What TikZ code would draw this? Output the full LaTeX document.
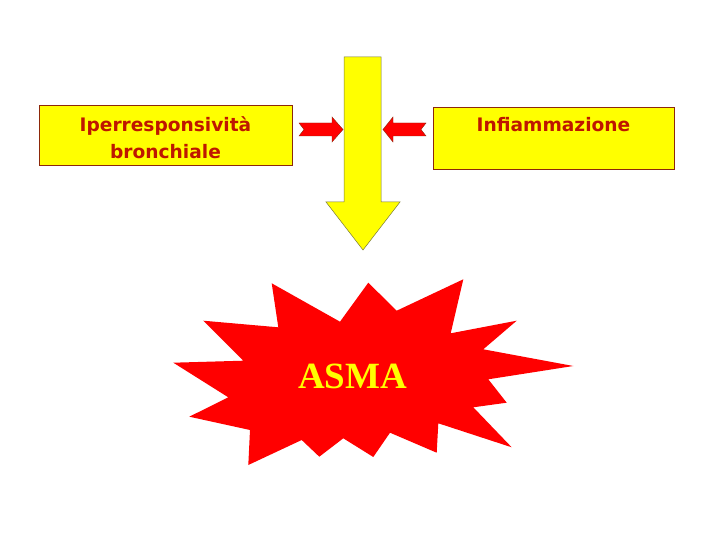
\documentclass[tikz,border=0pt]{standalone}
\usepackage{fontspec}
\setmainfont{Liberation Serif}
\newfontfamily\boxfont{DejaVu Sans}
\usetikzlibrary{positioning,calc}
\definecolor{boxyellow}{RGB}{255,255,0}
\definecolor{textred}{RGB}{190,22,0}
\definecolor{edgebrown}{RGB}{140,40,10}
\definecolor{burstred}{RGB}{255,0,0}
\definecolor{arrowedge}{RGB}{120,120,60}

\begin{document}
\begin{tikzpicture}[x=1pt, y=-1pt,
    yellowbox/.style={draw=edgebrown, line width=0.8pt, fill=boxyellow, inner sep=0pt},
    boxtext/.style={text=textred, font=\boxfont\bfseries\fontsize{18.6}{27}\selectfont, align=center, inner sep=0pt},
    redarrow/.style={draw=edgebrown, line width=0.4pt, fill=burstred}]
      \useasboundingbox (0,0) rectangle (720,540);

      % Yellow boxes
      \node[yellowbox, minimum width=253pt, minimum height=60pt] (iperbox) at (165.5,135) {};
      \node[boxtext] (iper) at (165.5,137.5) {Iperresponsività\\bronchiale};
      \node[yellowbox, minimum width=241pt, minimum height=62pt] (infbox) at (553.5,138) {};
      \node[boxtext, anchor=base] (infiam) at (553.5,132) {Infiammazione};

      % Big yellow arrow pointing down
      \draw[fill=boxyellow, draw=arrowedge, line width=0.5pt]
        (344,57) -- (381,57) -- (381,202) -- (400,202) -- (363,250)
        -- (326,202) -- (344,202) -- cycle;
      \coordinate (tip) at (363,250);

      % Red notched arrows into the shaft
      \draw[redarrow] (299,123) -- (332,123) -- (332,117) -- (343,129.5)
        -- (332,142) -- (332,136) -- (299,136) -- (304,129.5) -- cycle;
      \draw[redarrow] (426,123) -- (393,123) -- (393,117) -- (383,129.5)
        -- (393,142) -- (393,136) -- (426,136) -- (421,129.5) -- cycle;

      % Starburst
      \fill[burstred] (271.7,283.3) -- (340,321.7) -- (368.3,282.7) -- (396.7,310.7)
        -- (463.3,279.3) -- (450.7,333.3) -- (516.7,320.7) -- (483.3,349.3)
        -- (573.3,366) -- (488.3,379.3) -- (506.7,402.7) -- (473.3,407.3)
        -- (511.7,447.3) -- (438.3,423.3) -- (436.7,452.7) -- (390,432.7)
        -- (373.3,457) -- (343.3,438.3) -- (319.3,456.7) -- (301.7,440)
        -- (248.3,465) -- (250,430) -- (189.3,416.7) -- (228.3,397.3)
        -- (173.3,362.7) -- (243.3,360.7) -- (203.3,320.7) -- (278.3,327.3) -- cycle;
      \node[text=boxyellow, font=\bfseries\fontsize{37}{40}\selectfont, anchor=base] (asma) at (352.5,388) {ASMA};
    \end{tikzpicture}
\end{document}
